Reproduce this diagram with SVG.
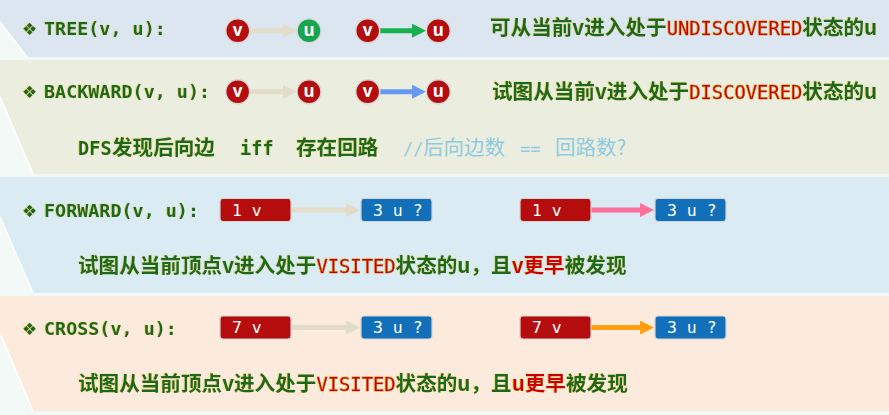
<svg xmlns="http://www.w3.org/2000/svg" width="889" height="415" viewBox="0 0 889 415">
<style>
.cn{font-family:"Noto Sans CJK SC","Noto Sans",sans-serif;font-weight:bold;font-size:20.6px;fill:#1b671b}
.title{font-family:"DejaVu Sans Mono","Liberation Mono",monospace;font-weight:bold;font-size:18.4px;fill:#1b671b}
.dia{font-family:"DejaVu Sans",sans-serif;font-size:17px;fill:#1b671b}
.red{fill:#cc0000}
.rm{font-family:"DejaVu Sans Mono","Liberation Mono",monospace;font-size:18.8px;font-weight:normal;fill:#cc0000;stroke:#cc0000;stroke-width:0.4}
.gm{font-family:"DejaVu Sans Mono","Liberation Mono",monospace;font-size:18.6px;font-weight:bold;fill:#1b671b}
.cm{font-family:"Noto Sans CJK SC","Noto Sans",sans-serif;font-size:20.5px;fill:#8fcbe0}
.cmm{font-family:"DejaVu Sans Mono","Liberation Mono",monospace;font-size:17px;fill:#8fcbe0}
.cr{fill:#b50d0d;stroke:#d9d9d9;stroke-width:1.5}
.cg{fill:#16a650;stroke:#d9d9d9;stroke-width:1.5}
.cl{font-family:"Noto Sans","DejaVu Sans",sans-serif;font-weight:bold;font-size:17px;fill:#fff;text-anchor:middle}
.br{fill:#b50d0d;stroke:#d4d4d4;stroke-width:1.2}
.bb{fill:#1170b9;stroke:#d4d4d4;stroke-width:1.2}
.bt{font-family:"DejaVu Sans Mono","Liberation Mono",monospace;font-size:16.5px;fill:#fff}
.ln{stroke-width:5;fill:none}
.slant{stroke:#ffffff;stroke-width:1.5}
</style>
<defs>
<filter id="sh" x="-5%" y="-20%" width="110%" height="140%">
<feDropShadow dx="-0.7" dy="-0.3" stdDeviation="0.3" flood-color="#cbbf00" flood-opacity="0.55"/>
</filter>
<marker id="mBeige" markerUnits="userSpaceOnUse" markerWidth="14" markerHeight="14" refX="6" refY="7" orient="auto"><path d="M0,0 L14,7 L0,14 z" fill="#e2dcc9"/></marker>
<marker id="mGreen" markerUnits="userSpaceOnUse" markerWidth="14" markerHeight="14" refX="6" refY="7" orient="auto"><path d="M0,0 L14,7 L0,14 z" fill="#16b04c"/></marker>
<marker id="mBlue" markerUnits="userSpaceOnUse" markerWidth="14" markerHeight="14" refX="6" refY="7" orient="auto"><path d="M0,0 L14,7 L0,14 z" fill="#6699f5"/></marker>
<marker id="mPink" markerUnits="userSpaceOnUse" markerWidth="14" markerHeight="14" refX="6" refY="7" orient="auto"><path d="M0,0 L14,7 L0,14 z" fill="#ff6f9a"/></marker>
<marker id="mOrange" markerUnits="userSpaceOnUse" markerWidth="14" markerHeight="14" refX="6" refY="7" orient="auto"><path d="M0,0 L14,7 L0,14 z" fill="#ff9f10"/></marker>
</defs>

<rect x="0" y="0" width="889" height="415" fill="#f3f9f6"/>
<g id="bands">
<polygon points="0,0 889,0 889,57 27,57 0,22" fill="#dce6f0"/>
<line class="slant" x1="0" y1="22" x2="27" y2="57"/>
<polygon points="0,60 889,60 889,174 33,174 0,97" fill="#ebeedf"/>
<line class="slant" x1="0" y1="97" x2="33" y2="174"/>
<polygon points="0,177 889,177 889,293 33,293 0,217" fill="#daebf3"/>
<line class="slant" x1="0" y1="217" x2="33" y2="293"/>
<polygon points="0,296 889,296 889,411 33,411 0,333" fill="#fcebdc"/>
<line class="slant" x1="0" y1="333" x2="33" y2="411"/>
</g>

<g id="connectors">
<line class="ln" x1="250" y1="30.7" x2="289" y2="30.7" stroke="#e2dcc9" marker-end="url(#mBeige)"/>
<line class="ln" x1="380" y1="30.7" x2="418" y2="30.7" stroke="#16b04c" marker-end="url(#mGreen)"/>
<line class="ln" x1="250" y1="91.7" x2="289" y2="91.7" stroke="#e2dcc9" marker-end="url(#mBeige)"/>
<line class="ln" x1="380" y1="91.7" x2="418" y2="91.7" stroke="#6699f5" marker-end="url(#mBlue)"/>
<line class="ln" x1="291" y1="210" x2="352" y2="210" stroke="#e2dcc9" marker-end="url(#mBeige)"/>
<line class="ln" x1="591" y1="210" x2="646" y2="210" stroke="#ff6f9a" marker-end="url(#mPink)"/>
<line class="ln" x1="291" y1="327.5" x2="352" y2="327.5" stroke="#e2dcc9" marker-end="url(#mBeige)"/>
<line class="ln" x1="591" y1="327.5" x2="646" y2="327.5" stroke="#ff9f10" marker-end="url(#mOrange)"/>
</g>

<g id="row-tree">
<g filter="url(#sh)">
<text class="dia" x="22" y="35">❖</text>
<text class="title" x="44" y="35">TREE(v, u):</text>
</g>
<g id="tree-v1"><circle class="cr" cx="237.7" cy="30.7" r="12"/><text class="cl" x="237.7" y="35.8">v</text></g>
<g id="tree-u1"><circle class="cg" cx="309" cy="30.7" r="12"/><text class="cl" x="309" y="35.8">u</text></g>
<g id="tree-v2"><circle class="cr" cx="367.7" cy="30.7" r="12"/><text class="cl" x="367.7" y="35.8">v</text></g>
<g id="tree-u2"><circle class="cr" cx="438.3" cy="30.7" r="12"/><text class="cl" x="438.3" y="35.8">u</text></g>
<text class="cn" x="490" y="35" filter="url(#sh)">可从当前v进入处于<tspan class="rm">UNDISCOVERED</tspan>状态的u</text>
</g>

<g id="row-backward">
<g filter="url(#sh)">
<text class="dia" x="22" y="98">❖</text>
<text class="title" x="44" y="98">BACKWARD(v, u):</text>
</g>
<g id="back-v1"><circle class="cr" cx="237.7" cy="91.7" r="12"/><text class="cl" x="237.7" y="96.8">v</text></g>
<g id="back-u1"><circle class="cr" cx="309" cy="91.7" r="12"/><text class="cl" x="309" y="96.8">u</text></g>
<g id="back-v2"><circle class="cr" cx="367.7" cy="91.7" r="12"/><text class="cl" x="367.7" y="96.8">v</text></g>
<g id="back-u2"><circle class="cr" cx="438.3" cy="91.7" r="12"/><text class="cl" x="438.3" y="96.8">u</text></g>
<text class="cn" x="492" y="99" filter="url(#sh)">试图从当前v进入处于<tspan class="rm">DISCOVERED</tspan>状态的u</text>
<g filter="url(#sh)">
<text class="gm" x="78" y="155">DFS</text>
<text class="cn" x="112" y="155">发现后向边</text>
<text class="gm" x="240" y="155">iff</text>
<text class="cn" x="296" y="155">存在回路</text>
</g>
<text class="cmm" x="403" y="155">//</text>
<text class="cm" x="423" y="155">后向边数</text>
<text class="cmm" x="520" y="155">==</text>
<text class="cm" x="555" y="155">回路数?</text>
</g>

<g id="row-forward">
<g filter="url(#sh)">
<text class="dia" x="22" y="217">❖</text>
<text class="title" x="44" y="217">FORWARD(v, u):</text>
</g>
<g id="fwd-v1"><rect class="br" x="220" y="198.5" width="71" height="23" rx="3"/><text class="bt" x="232" y="215.8">1 v</text></g>
<g id="fwd-u1"><rect class="bb" x="361" y="198.5" width="71" height="23" rx="3"/><text class="bt" x="373" y="215.8">3 u ?</text></g>
<g id="fwd-v2"><rect class="br" x="520" y="198.5" width="71" height="23" rx="3"/><text class="bt" x="532" y="215.8">1 v</text></g>
<g id="fwd-u2"><rect class="bb" x="655" y="198.5" width="71" height="23" rx="3"/><text class="bt" x="667" y="215.8">3 u ?</text></g>
<text class="cn" x="78" y="273" filter="url(#sh)">试图从当前顶点v进入处于<tspan class="rm">VISITED</tspan>状态的u，且<tspan class="red">v更早</tspan>被发现</text>
</g>

<g id="row-cross">
<g filter="url(#sh)">
<text class="dia" x="22" y="335">❖</text>
<text class="title" x="44" y="335">CROSS(v, u):</text>
</g>
<g id="cross-v1"><rect class="br" x="220" y="316" width="71" height="23" rx="3"/><text class="bt" x="232" y="333.3">7 v</text></g>
<g id="cross-u1"><rect class="bb" x="361" y="316" width="71" height="23" rx="3"/><text class="bt" x="373" y="333.3">3 u ?</text></g>
<g id="cross-v2"><rect class="br" x="520" y="316" width="71" height="23" rx="3"/><text class="bt" x="532" y="333.3">7 v</text></g>
<g id="cross-u2"><rect class="bb" x="655" y="316" width="71" height="23" rx="3"/><text class="bt" x="667" y="333.3">3 u ?</text></g>
<text class="cn" x="78" y="391" filter="url(#sh)">试图从当前顶点v进入处于<tspan class="rm">VISITED</tspan>状态的u，且<tspan class="red">u更早</tspan>被发现</text>
</g>
</svg>
